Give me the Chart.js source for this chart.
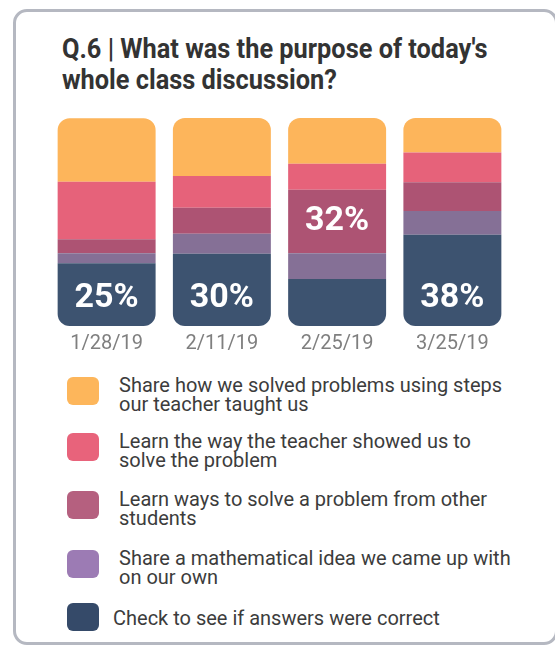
<!DOCTYPE html>
<html>
<head>
<meta charset="utf-8">
<script src="https://cdn.jsdelivr.net/npm/chart.js@4"></script>
<style>
  html, body { margin: 0; padding: 0; background: #fff; }
  body { width: 555px; height: 647px; position: relative; overflow: hidden; font-family: Roboto, "Noto Sans", sans-serif; }
  .card { position: absolute; left: 13px; top: 9px; width: 545px; height: 636px; border: 3px solid #b5b8c1; border-radius: 14px; box-sizing: border-box; }
  .title { position: absolute; left: 62px; top: 33px; margin: 0; font-size: 28px; font-weight: 700; line-height: 31px; color: #333; transform: scaleX(0.905); transform-origin: left top; white-space: nowrap; }
  .chart { position: absolute; left: 0; top: 110px; width: 555px; height: 252px; }
  .legend { position: absolute; left: 67px; top: 0; }
  .item { position: absolute; left: 0; display: flex; align-items: flex-start; }
  .swatch { width: 32px; height: 28px; border-radius: 6px; flex: none; }
  .text { margin-left: 20px; margin-top: -1px; font-size: 20px; line-height: 19px; color: #3c3c3c; white-space: nowrap; }
</style>
</head>
<body>
<div class="card"></div>
<h2 class="title">Q.6 | What was the purpose of today's<br>whole class discussion?</h2>
<div class="chart"><canvas id="purposeChart"></canvas></div>
<div class="legend" id="legend"></div>
<script>
const dates = ["1/28/19", "2/11/19", "2/25/19", "3/25/19"];
const answers = [
  ["Share how we solved problems using steps", "our teacher taught us"],
  ["Learn the way the teacher showed us to", "solve the problem"],
  ["Learn ways to solve a problem from other", "students"],
  ["Share a mathematical idea we came up with", "on our own"],
  ["Check to see if answers were correct"],
];
// percent of responses per date, legend order (top of bar first)
const shareSteps = [30.5, 27.9, 22.0, 16.6];
const learnTeacher = [27.7, 15.3, 12.5, 14.3];
const learnOthers = [6.7, 12.4, 30.5, 13.8];
const shareOwnIdea = [4.8, 9.7, 12.4, 11.4];
const checkAnswers = [30.2, 34.7, 22.6, 43.9];
const series = [shareSteps, learnTeacher, learnOthers, shareOwnIdea, checkAnswers];

// highlighted figure on each bar and which answer it belongs to
const calloutValues = [25, 30, 32, 38];
const calloutAnswer = [4, 4, 2, 4];

const barColors = ["#fdb55b", "#e6627a", "#ad5373", "#857096", "#3d5370"];
const swatchColors = ["#fdb65b", "#e8637b", "#b5607f", "#9c7bb4", "#354a69"];
const swatchTops = [377, 433, 491, 550, 603];

const last = series.length - 1;
// bottom of the stack first
const datasets = series.map((values, index) => ({
  label: answers[index].join(" "),
  data: values,
  backgroundColor: barColors[index],
  borderSkipped: false,
  borderRadius: index === 0 ? { topLeft: 12, topRight: 12, bottomLeft: 0, bottomRight: 0 }
    : index === last ? { topLeft: 0, topRight: 0, bottomLeft: 12, bottomRight: 12 } : 0,
})).reverse();

const callouts = {
  id: "callouts",
  afterDatasetsDraw(chart) {
    const { ctx } = chart;
    ctx.save();
    ctx.fillStyle = "#fff";
    ctx.font = "bold 34px Roboto";
    ctx.textAlign = "center";
    ctx.textBaseline = "middle";
    calloutValues.forEach((value, i) => {
      const datasetIndex = last - calloutAnswer[i];
      const bar = chart.getDatasetMeta(datasetIndex).data[i];
      const y = datasetIndex === 0 ? bar.base - 28 : (bar.y + bar.base) / 2;
      ctx.fillText(value + "%", bar.x, y);
    });
    ctx.restore();
  },
};

new Chart(document.getElementById("purposeChart"), {
  type: "bar",
  data: { labels: dates, datasets },
  options: {
    responsive: true,
    maintainAspectRatio: false,
    animation: false,
    layout: { padding: { top: 8, left: 49, right: 45, bottom: 0 } },
    datasets: { bar: { categoryPercentage: 1, barPercentage: 0.85 } },
    plugins: { legend: { display: false }, tooltip: { enabled: false } },
    scales: {
      x: {
        stacked: true,
        grid: { display: false, drawTicks: false },
        border: { display: false },
        ticks: { color: "#7f7f7f", padding: 6, font: { family: "Roboto", size: 20 } },
      },
      y: { stacked: true, display: false, min: 0, max: 100 },
    },
  },
  plugins: [callouts],
});

const legend = document.getElementById("legend");
answers.forEach((lines, index) => {
  const item = document.createElement("div");
  item.className = "item";
  item.style.top = swatchTops[index] + "px";
  const swatch = document.createElement("div");
  swatch.className = "swatch";
  swatch.style.background = swatchColors[index];
  const text = document.createElement("div");
  text.className = "text";
  text.innerHTML = lines.join("<br>");
  if (lines.length === 1) {
    text.style.marginTop = "6px";
    text.style.marginLeft = "14px";
  }
  item.append(swatch, text);
  legend.append(item);
});
</script>
</body>
</html>
